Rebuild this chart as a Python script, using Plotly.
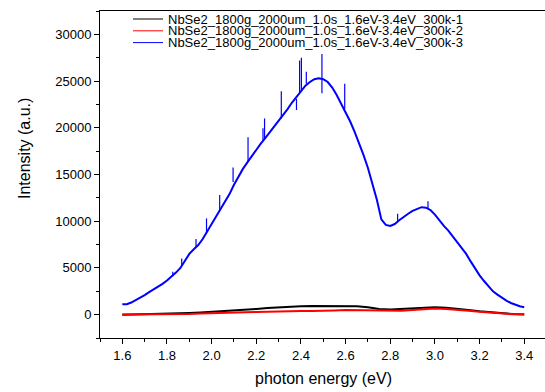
import plotly.graph_objects as go

# ---------------- data ----------------
blue_energy = [1.60, 1.62, 1.64, 1.66, 1.68, 1.70, 1.72, 1.74, 1.76, 1.78,
               1.80, 1.82, 1.84, 1.86, 1.88, 1.90, 1.92, 1.94, 1.96, 1.98,
               2.00, 2.02, 2.04, 2.06, 2.08, 2.10, 2.12, 2.14, 2.16, 2.18,
               2.20, 2.22, 2.24, 2.26, 2.28, 2.30, 2.32, 2.34, 2.36, 2.38,
               2.40, 2.42, 2.44, 2.46, 2.48, 2.50, 2.52, 2.54, 2.56, 2.58,
               2.60, 2.62, 2.64, 2.66, 2.68, 2.70, 2.72, 2.74, 2.76, 2.78,
               2.80, 2.82, 2.84, 2.86, 2.88, 2.90, 2.92, 2.94, 2.96, 2.98,
               3.00, 3.02, 3.04, 3.06, 3.08, 3.10, 3.12, 3.14, 3.16, 3.18,
               3.20, 3.22, 3.24, 3.26, 3.28, 3.30, 3.32, 3.34, 3.36, 3.38,
               3.40]
blue_intensity = [1100, 1120, 1300, 1550, 1850, 2100, 2400, 2700, 2950, 3300,
                  3650, 4050, 4500, 5000, 5800, 6500, 7000, 7450, 8100, 8900,
                  9600, 10400, 11200, 12000, 12900, 13900, 14800, 15600, 16300, 17000,
                  17700, 18300, 18900, 19500, 20100, 20700, 21300, 22000, 22700, 23300,
                  24000, 24500, 24900, 25200, 25300, 25200, 24900, 24300, 23500, 22600,
                  21700, 20700, 19600, 18400, 17100, 15700, 14000, 12300, 10200, 9600,
                  9500, 9700, 10100, 10500, 10800, 11100, 11300, 11500, 11450, 11200,
                  10700, 10050, 9500, 9000, 8400, 7800, 7200, 6500, 5700, 4900,
                  4200, 3600, 3050, 2500, 2150, 1800, 1500, 1250, 1050, 900,
                  800]

# narrow noise spikes on the blue spectrum: position, base and tip value
spike_energy = [1.826, 1.866, 1.930, 1.977, 2.036, 2.096, 2.163, 2.230, 2.237,
                2.312, 2.380, 2.394, 2.402, 2.424, 2.494, 2.494, 2.596, 2.833, 2.969]
spike_base = [4100, 5300, 7200, 8700, 11100, 14200, 16400, 18600, 18800,
              21000, 23100, 23800, 24000, 24700, 25200, 25200, 22000, 10000, 11350]
spike_tip = [4600, 6000, 8100, 10300, 12800, 15750, 19000, 19950, 21000,
             23900, 21900, 27200, 27500, 26000, 27900, 23700, 24700, 10800, 12150]

red_black_energy = [1.60, 1.65, 1.70, 1.75, 1.80, 1.85, 1.90, 1.95, 2.00, 2.05,
                    2.10, 2.15, 2.20, 2.25, 2.30, 2.35, 2.40, 2.45, 2.50, 2.55,
                    2.60, 2.65, 2.70, 2.75, 2.80, 2.85, 2.90, 2.95, 3.00, 3.05,
                    3.10, 3.15, 3.20, 3.25, 3.30, 3.35, 3.40]
black_intensity = [0, 20, 30, 50, 70, 120, 180, 230, 290, 360,
                   430, 520, 610, 700, 790, 850, 890, 920, 930, 935,
                   930, 890, 790, 600, 540, 600, 720, 790, 790, 730,
                   650, 500, 360, 240, 140, 60, 20]
red_intensity = [20, 20, 20, 30, 40, 50, 80, 130, 180, 200,
                 220, 260, 290, 330, 360, 380, 390, 390, 400, 450,
                 500, 490, 460, 400, 390, 420, 500, 600, 650, 600,
                 540, 430, 320, 200, 80, 40, 40]

series_names = ["NbSe2_1800g_2000um_1.0s_1.6eV-3.4eV_300k-1",
                "NbSe2_1800g_2000um_1.0s_1.6eV-3.4eV_300k-2",
                "NbSe2_1800g_2000um_1.0s_1.6eV-3.4eV_300k-3"]
series_colors = ["#000000", "#ff0000", "#0000ff"]

x_title = "photon energy (eV)"
y_title = "Intensity (a.u.)"

# ---------------- figure ----------------
W, H = 545, 392
L, R, T, B = 100, 0, 11, 54
FONT = "Arial, 'Liberation Sans', sans-serif"

fig = go.Figure()
fig.add_trace(go.Scatter(x=red_black_energy, y=black_intensity, mode="lines",
                         line=dict(color=series_colors[0], width=2),
                         name=series_names[0], showlegend=False))
fig.add_trace(go.Scatter(x=red_black_energy, y=red_intensity, mode="lines",
                         line=dict(color=series_colors[1], width=2),
                         name=series_names[1], showlegend=False))
fig.add_trace(go.Scatter(x=blue_energy, y=blue_intensity, mode="lines",
                         line=dict(color=series_colors[2], width=2),
                         name=series_names[2], showlegend=False))
sx, sy = [], []
for e, b0, t0 in zip(spike_energy, spike_base, spike_tip):
    sx += [e, e, None]
    sy += [b0, t0, None]
fig.add_trace(go.Scatter(x=sx, y=sy, mode="lines",
                         line=dict(color=series_colors[2], width=1.2),
                         showlegend=False, hoverinfo="skip"))

pw = W - L - R
ph = H - T - B


def pxx(px):
    return (px - L) / pw


def pxy(py):
    return (H - B - py) / ph


# hand-made legend (compact rows like the original)
shapes = []
annotations = []
for i, (nm, col) in enumerate(zip(series_names, series_colors)):
    yy = 19 + i * 11.8
    shapes.append(dict(type="line", xref="paper", yref="paper",
                       x0=pxx(133), x1=pxx(163), y0=pxy(yy), y1=pxy(yy),
                       line=dict(color=col, width=1)))
    annotations.append(dict(xref="paper", yref="paper", x=pxx(166), y=pxy(yy),
                            xanchor="left", yanchor="middle", showarrow=False,
                            text=nm, font=dict(family=FONT, size=13, color="#000")))

annotations.append(dict(xref="paper", yref="paper", x=pxx(24), y=pxy(149),
                        xanchor="center", yanchor="middle", showarrow=False,
                        textangle=-90, text=y_title,
                        font=dict(family=FONT, size=16, color="#000")))
annotations.append(dict(xref="paper", yref="paper", x=pxx(323), y=pxy(378),
                        xanchor="center", yanchor="middle", showarrow=False,
                        text=x_title, font=dict(family=FONT, size=16, color="#000")))

fig.update_layout(
    width=W, height=H,
    margin=dict(l=L, r=R, t=T, b=B, pad=0, autoexpand=False),
    paper_bgcolor="white", plot_bgcolor="white",
    font=dict(family=FONT, size=13, color="#000"),
    showlegend=False,
    shapes=shapes, annotations=annotations,
    xaxis=dict(range=[1.5, 3.493], tick0=1.6, dtick=0.2, tickformat=".1f",
               automargin=False,
               showgrid=False, zeroline=False,
               showline=True, linecolor="#000", linewidth=1, mirror=True,
               ticks="outside", ticklen=5, tickwidth=1, tickcolor="#000",
               tickfont=dict(family=FONT, size=13, color="#000"),
               minor=dict(dtick=0.1, tick0=1.6, ticks="outside", ticklen=3,
                          tickwidth=1, tickcolor="#000", showgrid=False)),
    yaxis=dict(range=[-2500, 32500], tick0=0, dtick=5000, tickformat="d",
               automargin=False,
               showgrid=False, zeroline=False,
               showline=True, linecolor="#000", linewidth=1,
               ticks="outside", ticklen=5, tickwidth=1, tickcolor="#000",
               tickfont=dict(family=FONT, size=13, color="#000"),
               minor=dict(dtick=2500, tick0=0, ticks="outside", ticklen=3,
                          tickwidth=1, tickcolor="#000", showgrid=False)),
)

fig.write_html("out.html",
               config={"displayModeBar": False},
               post_script="document.body.style.margin='0';"
                           "document.body.style.overflow='hidden';")
